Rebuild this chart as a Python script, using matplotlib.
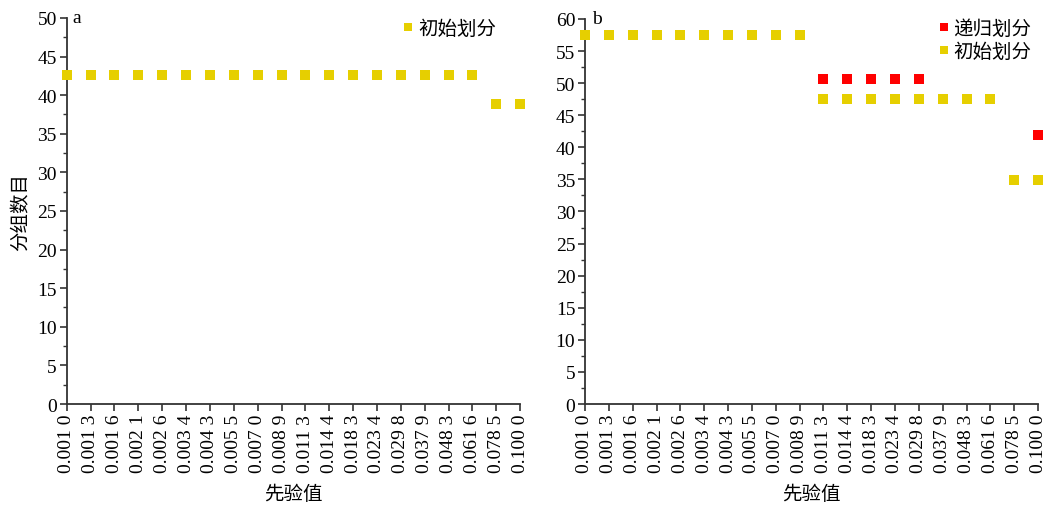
import numpy as np
import matplotlib
matplotlib.use("Agg")
import matplotlib.pyplot as plt
from matplotlib.ticker import MultipleLocator, AutoMinorLocator

# prior values (x categories)
priors = ["0.001 0", "0.001 3", "0.001 6", "0.002 1", "0.002 6", "0.003 4",
          "0.004 3", "0.005 5", "0.007 0", "0.008 9", "0.011 3", "0.014 4",
          "0.018 3", "0.023 4", "0.029 8", "0.037 9", "0.048 3", "0.061 6",
          "0.078 5", "0.100 0"]

# panel a: initial partition group counts
a_initial = [42.6] * 18 + [38.8] * 2

# panel b: initial partition group counts
b_initial = [57.5] * 10 + [47.5] * 8 + [34.9] * 2
# panel b: recursive partition (index, value)
b_recursive_idx = [10, 11, 12, 13, 14, 19]
b_recursive = [50.7, 50.7, 50.7, 50.7, 50.7, 41.9]

YELLOW = "#E6CF00"
RED = "#FF0000"
SERIF = ["Liberation Serif", "DejaVu Serif"]
CJK = ["Noto Sans CJK SC", "DejaVu Sans"]
FS = 14

fig = plt.figure(figsize=(10.48, 5.06), dpi=100)
ax_a = fig.add_axes([0.0636, 0.1996, 0.4328, 0.7629])
ax_b = fig.add_axes([0.5582, 0.1996, 0.4323, 0.7609])

x = np.arange(len(priors))


def style(ax, ymax):
    ax.set_xlim(0, len(priors) - 1)
    ax.set_ylim(0, ymax)
    for s in ("top", "right"):
        ax.spines[s].set_visible(False)
    for s in ("left", "bottom"):
        ax.spines[s].set_linewidth(1.3)
        ax.spines[s].set_color("#333333")
    ax.set_xticks(x)
    ax.set_xticklabels(priors, rotation=90, fontfamily=SERIF, fontsize=FS)
    ax.yaxis.set_major_locator(MultipleLocator(5))
    ax.yaxis.set_minor_locator(AutoMinorLocator(2))
    ax.tick_params(axis="both", which="major", direction="out", length=5,
                   width=1.2, labelsize=FS, color="#333333", pad=2)
    ax.tick_params(axis="y", which="minor", direction="out", length=3,
                   width=1.0, color="#333333")
    for lab in ax.get_yticklabels():
        lab.set_fontfamily(SERIF)
    ax.set_xlabel("先验值", fontfamily=CJK, fontsize=FS, labelpad=7.5)


# panel a
style(ax_a, 50)
ax_a.plot(x, a_initial, "s", color=YELLOW, ms=7, mew=0, clip_on=False,
          zorder=3, label="初始划分")
ax_a.set_ylabel("分组数目", fontfamily=CJK, fontsize=FS, labelpad=4)
ax_a.text(0.012, 1.0, "a", transform=ax_a.transAxes, fontfamily=SERIF,
          fontsize=FS, va="center", ha="left")
ax_a.legend(loc="upper right", bbox_to_anchor=(0.972, 1.03), frameon=False,
            prop={"family": CJK, "size": FS}, handletextpad=0.0,
            handlelength=1.0, markerscale=0.85, borderaxespad=0.2)

# panel b
style(ax_b, 60)
ax_b.plot(b_recursive_idx, b_recursive, "s", color=RED, ms=7, mew=0,
          clip_on=False, zorder=4, label="递归划分")
ax_b.plot(x, b_initial, "s", color=YELLOW, ms=7, mew=0, clip_on=False,
          zorder=3, label="初始划分")
ax_b.text(0.015, 1.0, "b", transform=ax_b.transAxes, fontfamily=SERIF,
          fontsize=FS, va="center", ha="left")
ax_b.legend(loc="upper right", bbox_to_anchor=(1.011, 1.033), frameon=False,
            prop={"family": CJK, "size": FS}, handletextpad=0.0,
            handlelength=1.0, markerscale=0.85, borderaxespad=0.2,
            labelspacing=0.1)

fig.savefig("out.png", dpi=100)
